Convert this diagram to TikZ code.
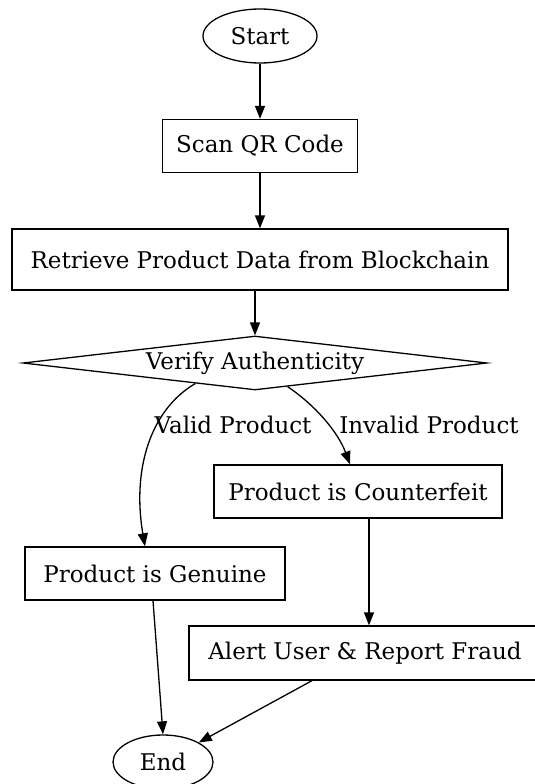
\documentclass[tikz,border=0pt]{standalone}
\usepackage{fontspec}
\setmainfont{DejaVu Serif}
\usetikzlibrary{shapes.geometric,arrows.meta}
\begin{document}
\begin{tikzpicture}[x=1pt,y=-1pt,
  every node/.style={font=\fontsize{23}{26}\selectfont},
  box/.style={draw,line width=1.3pt,rectangle,inner sep=0pt},
  oval/.style={draw,line width=1.3pt,ellipse,inner sep=0pt},
  dia/.style={draw,line width=1.3pt,diamond,inner sep=0pt,aspect=8.6},
  arr/.style={line width=1.3pt,-{Triangle[length=13pt,width=10pt]}},
  lbl/.style={inner sep=0pt}]
\useasboundingbox (0,0) rectangle (535,784);
\node[oval,minimum width=114pt,minimum height=54pt] (start) at (260,36) {Start};
\node[box,minimum width=195pt,minimum height=53pt] (scan) at (260,146) {Scan QR Code};
\node[box,minimum width=496pt,minimum height=61pt] (retr) at (260,259.5) {Retrieve Product Data from Blockchain};
\node[dia,minimum width=464pt,minimum height=54pt] (ver) at (255,363) {Verify Authenticity};
\node[box,minimum width=288pt,minimum height=53pt] (cf) at (358,491.5) {Product is Counterfeit};
\node[box,minimum width=260pt,minimum height=53pt] (gen) at (155,573.5) {Product is Genuine};
\node[box,minimum width=352pt,minimum height=54pt] (alert) at (365,653) {Alert User \& Report Fraud};
\node[oval,minimum width=100pt,minimum height=54pt] (end) at (163,762) {End};
\draw[arr] (start) -- (scan);
\draw[arr] (scan) -- (retr);
\draw[arr] (retr.south -| ver.north) -- (ver.north);
\draw[arr] (ver.199) .. controls (150,410) and (132,470) .. (gen.north -| 145,0);
\draw[arr] (ver.-36) .. controls (315,405) and (338,432) .. (cf.north -| 350,0);
\draw[arr] (cf.south -| 369,0) -- (alert.north -| 369,0);
\draw[arr] (gen.south -| 153,0) -- (end.north);
\draw[arr] (alert.south -| 312,0) -- (end.north east);
\node[lbl] (lv) at (233,425) {Valid Product};
\node[lbl] (li) at (429,425) {Invalid Product};
\end{tikzpicture}
\end{document}
